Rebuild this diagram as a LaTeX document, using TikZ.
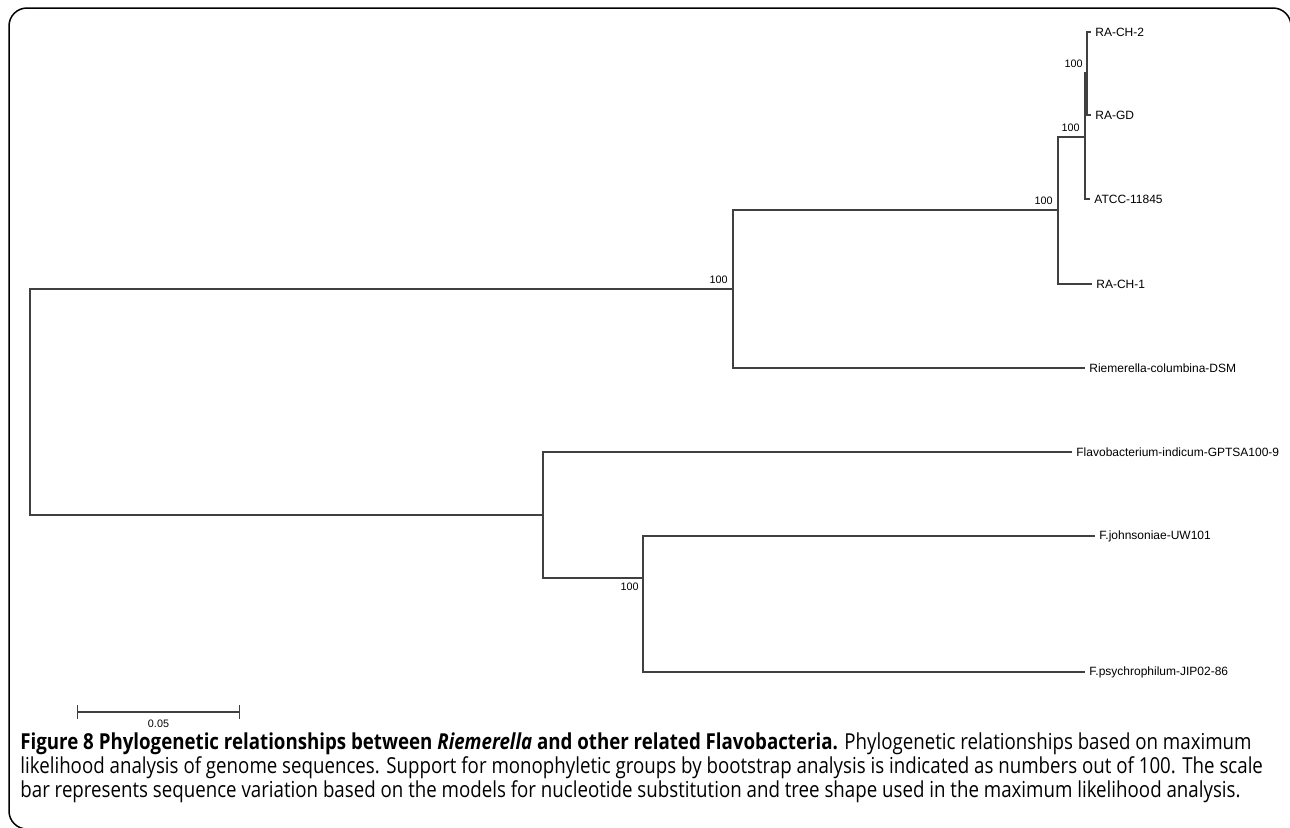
\documentclass[tikz,border=0pt]{standalone}
\usepackage{fontspec}
\setmainfont{Liberation Sans}
\newfontfamily\legfont{Open Sans}[FakeStretch=0.85]
\usepackage{tikz}
\usetikzlibrary{arrows,positioning}
\colorlet{branche}{black!75}

\begin{document}
\begin{tikzpicture}[x=0.5pt,y=-0.5pt,%
  branche/.style={draw=branche,line width=0.65pt},%
  feuille/.style={anchor=west,inner sep=2pt,font=\fontsize{6}{7}\selectfont},%
  boot/.style={inner sep=0.5pt,font=\fontsize{5.4}{6}\selectfont},%
  legende/.style={anchor=base west,inner sep=0pt,font=\legfont\fontsize{11}{12}\selectfont}]%
\useasboundingbox (0,0) rectangle (1290,827);%%
%%CADRE
\draw[rounded corners=9pt,line width=0.75pt] (1291,40) -- (1291,8) -- (9,8) -- (9,829) -- (40,829);%%
%%NOEUDS INTERNES
\coordinate (r) at (30,402);%%
\coordinate (a) at (733,289);%%
\coordinate (b) at (1058,210);%%
\coordinate (c) at (1085,137);%%
\coordinate (d) at (1087,73);%%
\coordinate (f) at (543,515);%%
\coordinate (g) at (643,578);%%
%%FEUILLES
\node[feuille] (rach2) at (1091,32)  {RA-CH-2};%%
\node[feuille] (ragd) at (1091,115)  {RA-GD};%%
\node[feuille] (atcc) at (1090,199)  {ATCC-11845};%%
\node[feuille] (rach1) at (1092,284)  {RA-CH-1};%%
\node[feuille] (rcol) at (1085,368)  {Riemerella-columbina-DSM};%%
\node[feuille] (find) at (1072,452)  {Flavobacterium-indicum-GPTSA100-9};%%
\node[feuille] (fjoh) at (1095,536)  {F.johnsoniae-UW101};%%
\node[feuille] (fpsy) at (1085,672)  {F.psychrophilum-JIP02-86};%%
%%BRANCHES
\draw[branche] (r) |- (a); %%
\draw[branche] (r) |- (f); %%
\draw[branche] (a) |- (b); %%
\draw[branche] (a) |- (rcol.west); %%
\draw[branche] (b) |- (c); %%
\draw[branche] (b) |- (rach1.west); %%
\draw[branche] (c) |- (d); %%
\draw[branche] (c) |- (atcc.west); %%
\draw[branche] (d) |- (rach2.west); %%
\draw[branche] (d) |- (ragd.west); %%
\draw[branche] (f) |- (find.west); %%
\draw[branche] (f) |- (g); %%
\draw[branche] (g) |- (fjoh.west); %%
\draw[branche] (g) |- (fpsy.west); %%
%%BOOTSTRAP
\node[boot,above left=2pt and 1.5pt of d] (bd) {100}; %%
\node[boot,above left=2pt and 2pt of c] (bc) {100}; %%
\node[boot,above left=2pt and 2pt of b] (bb) {100}; %%
\node[boot,above left=2pt and 2pt of a] (ba) {100}; %%
\node[boot,below left=2pt and 1.5pt of g] (bg) {100}; %%
%%ECHELLE
\coordinate (e1) at (77,712);%%
\coordinate (e2) at (240,712);%%
\draw[branche,|-|] (e1)--(e2) node[midway,below=3pt,boot]{0.05}; %%
%%LEGENDE
\node[legende] (l1) at (20,749) {{\bfseries Figure 8 Phylogenetic relationships between \textit{Riemerella} and other related Flavobacteria.} Phylogenetic relationships based on maximum}; %%
\node[legende] (l2) at (20,773) {likelihood analysis of genome sequences. Support for monophyletic groups by bootstrap analysis is indicated as numbers out of 100. The scale}; %%
\node[legende] (l3) at (20,797) {bar represents sequence variation based on the models for nucleotide substitution and tree shape used in the maximum likelihood analysis.}; %%
\end{tikzpicture}
\end{document}
